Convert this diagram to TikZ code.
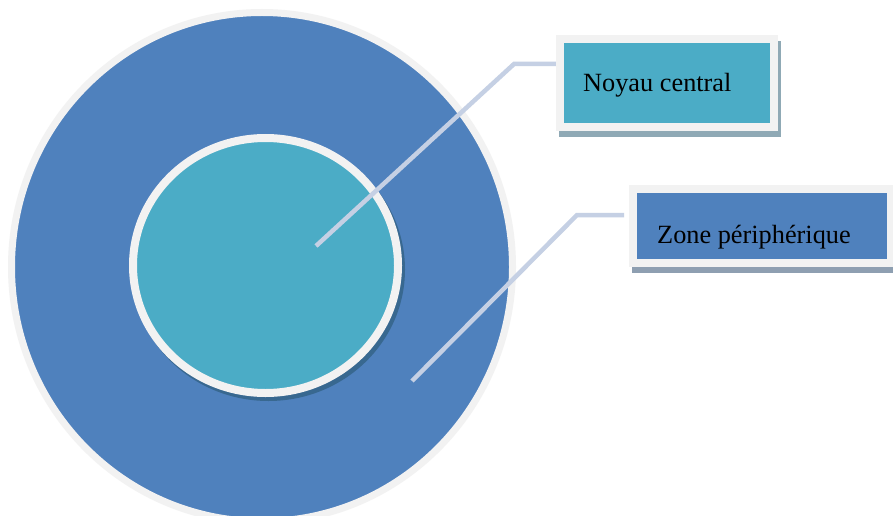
\documentclass[tikz,border=0pt]{standalone}
\usepackage{fontspec}
\setmainfont{Liberation Serif}
\usetikzlibrary{shapes.geometric,shadows}

\definecolor{zoneblue}{HTML}{4F81BD}
\definecolor{coreteal}{HTML}{4BACC6}
\definecolor{rimgray}{HTML}{F2F2F2}
\definecolor{leaderblue}{HTML}{C5D0E4}
\definecolor{coreshade}{HTML}{386890}
\definecolor{tealshade}{HTML}{8FA9B5}
\definecolor{blueshade}{HTML}{8E9FB1}

\tikzset{
  disc/.style={ellipse, inner sep=0pt, draw=rimgray},
  labelbox/.style={rectangle, inner sep=0pt, draw=rimgray, line width=8pt},
  labeltext/.style={anchor=base west, inner sep=0pt, font=\fontsize{26.3}{31}\selectfont},
  leader/.style={draw=leaderblue, line width=4.5pt},
}

\begin{document}
\begin{tikzpicture}[x=1pt, y=-1pt]
  \useasboundingbox[fill=white] (0,0) rectangle (893,516);

  % peripheral zone and central core
  \node[disc, fill=zoneblue, line width=7pt, minimum width=501pt, minimum height=509pt]
    (zone) at (262,267) {};
  \node[disc, fill=coreteal, line width=8pt, minimum width=265pt, minimum height=255pt,
        drop shadow={shadow xshift=3pt, shadow yshift=-4pt, fill=coreshade, opacity=1,
                     draw=coreshade, line width=8pt}]
    (core) at (265.5,265.5) {};

  % leader line anchors
  \coordinate (coreTip) at (316,246);
  \coordinate (coreBend) at (514,64);
  \coordinate (coreEnd) at (557,64);
  \coordinate (zoneTip) at (412,381);
  \coordinate (zoneBend) at (577,215);
  \coordinate (zoneEnd) at (624,215);

  \draw[leader] (coreTip) -- (coreBend) -- (coreEnd);
  \draw[leader] (zoneTip) -- (zoneBend) -- (zoneEnd);

  % callout boxes
  \node[labelbox, fill=coreteal, minimum width=213.5pt, minimum height=87.5pt,
        drop shadow={shadow xshift=3pt, shadow yshift=-6pt, fill=tealshade, opacity=1,
                     draw=tealshade, line width=8pt}]
    (coreBox) at (666.75,82.75) {};
  \node[labelbox, fill=zoneblue, minimum width=258pt, minimum height=74pt,
        drop shadow={shadow xshift=3pt, shadow yshift=-6pt, fill=blueshade, opacity=1,
                     draw=blueshade, line width=8pt}]
    (zoneBox) at (762,226) {};

  \node[labeltext] (coreLabel) at (583,92) {Noyau central};
  \node[labeltext] (zoneLabel) at (657,243) {Zone périphérique};
\end{tikzpicture}
\end{document}
